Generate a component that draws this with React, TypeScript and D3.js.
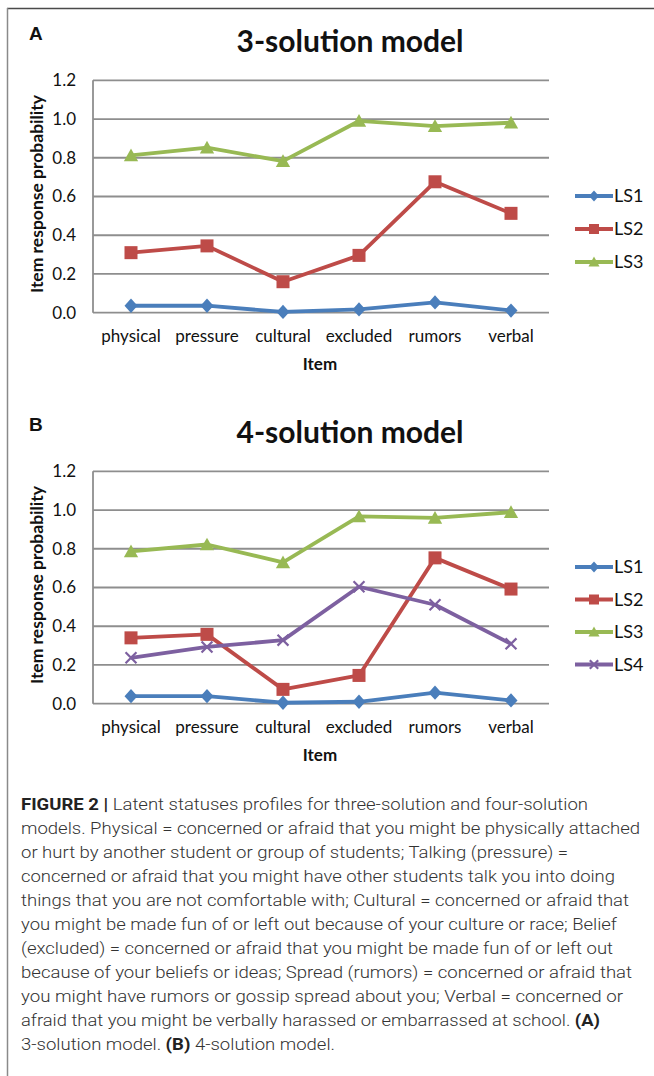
import React from "react";
import * as d3 from "d3";

const items = ["physical", "pressure", "cultural", "excluded", "rumors", "verbal"];
const yTicks = [0, 0.2, 0.4, 0.6, 0.8, 1.0, 1.2];

const seriesNames = ["LS1", "LS2", "LS3", "LS4"];
const seriesColors = ["#4A7EBB", "#BE4B48", "#98B954", "#7D60A0"];
const seriesMarkers = ["diamond", "square", "triangle", "x"];

// Panel A: 3-solution model
const a_LS1 = [0.036, 0.036, 0.004, 0.017, 0.053, 0.011];
const a_LS2 = [0.31, 0.345, 0.16, 0.296, 0.676, 0.513];
const a_LS3 = [0.812, 0.852, 0.783, 0.99, 0.963, 0.981];

// Panel B: 4-solution model
const b_LS1 = [0.039, 0.039, 0.005, 0.01, 0.057, 0.017];
const b_LS2 = [0.34, 0.358, 0.074, 0.146, 0.753, 0.592];
const b_LS3 = [0.787, 0.822, 0.73, 0.967, 0.959, 0.989];
const b_LS4 = [0.237, 0.293, 0.328, 0.604, 0.511, 0.309];

const captionLines = [
  [["FIGURE 2 | ", true], ["Latent statuses profiles for three-solution and four-solution", false]],
  [["models. Physical = concerned or afraid that you might be physically attached", false]],
  [["or hurt by another student or group of students; Talking (pressure) =", false]],
  [["concerned or afraid that you might have other students talk you into doing", false]],
  [["things that you are not comfortable with; Cultural = concerned or afraid that", false]],
  [["you might be made fun of or left out because of your culture or race; Belief", false]],
  [["(excluded) = concerned or afraid that you might be made fun of or left out", false]],
  [["because of your beliefs or ideas; Spread (rumors) = concerned or afraid that", false]],
  [["you might have rumors or gossip spread about you; Verbal = concerned or", false]],
  [["afraid that you might be verbally harassed or embarrassed at school. ", false], ["(A)", true]],
  [["3-solution model. ", false], ["(B)", true], [" 4-solution model.", false]],
] as [string, boolean][][];
const captionWidths = [567, 619, 547, 594, 608, 596, 592, 611, 602, 579, 314];

const chartFont = "Lato, 'Open Sans', sans-serif";

function Marker({ type, x, y, color, s }: { type: string; x: number; y: number; color: string; s: number }) {
  if (type === "diamond") {
    const w = s * 0.5, h = s * 0.55;
    return <path d={`M${x},${y - h}L${x + w},${y}L${x},${y + h}L${x - w},${y}Z`} fill={color} />;
  }
  if (type === "square") {
    const h = s / 2;
    return <rect x={x - h} y={y - h} width={s} height={s} fill={color} />;
  }
  if (type === "triangle") {
    const w = s * 0.55, h = s * 0.45;
    return <path d={`M${x},${y - h - 1}L${x + w},${y + h}L${x - w},${y + h}Z`} fill={color} />;
  }
  const h = s * 0.42;
  return (
    <path
      d={`M${x - h},${y - h}L${x + h},${y + h}M${x - h},${y + h}L${x + h},${y - h}`}
      stroke={color}
      strokeWidth={2.2}
    />
  );
}

function Panel({
  letter, title, top, series,
}: { letter: string; title: string; top: number; series: number[][] }) {
  const x = d3.scalePoint<string>().domain(items).range([93, 549]).padding(0.5);
  const y0 = top + 312.7; // 0.0
  const y = d3.scaleLinear().domain([0, 1.2]).range([y0, y0 - 232.4]);
  const line = d3
    .line<number>()
    .x((_, i) => x(items[i]) as number)
    .y((d) => y(d));
  const legTop = series.length === 3 ? top + 196 : top + 176;
  const legStep = series.length === 3 ? 33 : 32.5;
  return (
    <g>
      <text x={29} y={top + 40} fontFamily="Arial, 'Liberation Sans', sans-serif" fontWeight="bold" fontSize={19} fill="#111">
        {letter}
      </text>
      <text x={350} y={top + 52} textAnchor="middle" fontFamily={chartFont} fontWeight="bold" fontSize={30} fill="#111">
        {title}
      </text>
      {yTicks.map((t) => (
        <g key={t}>
          <line x1={93} x2={549} y1={y(t)} y2={y(t)} stroke="#8e8e8e" strokeWidth={1.8} />
          <text x={76} y={y(t)} dy="0.35em" textAnchor="end" fontFamily={chartFont} fontSize={17} fill="#111">
            {t.toFixed(1)}
          </text>
        </g>
      ))}
      <line x1={93} x2={93} y1={y(1.2)} y2={y(0)} stroke="#8e8e8e" strokeWidth={1.8} />
      {items.map((c) => (
        <text key={c} x={x(c)} y={top + 342} textAnchor="middle" fontFamily={chartFont} fontSize={17} fill="#111">
          {c}
        </text>
      ))}
      <text x={320} y={top + 370} textAnchor="middle" fontFamily={chartFont} fontWeight="bold" fontSize={17} fill="#111">
        Item
      </text>
      <text
        transform={`translate(43,${top + 194}) rotate(-90)`}
        textAnchor="middle"
        fontFamily={chartFont}
        fontWeight="bold"
        fontSize={17.5}
        fill="#111"
      >
        Item response probability
      </text>
      {series.map((vals, si) => (
        <g key={si}>
          <path d={line(vals) || ""} fill="none" stroke={seriesColors[si]} strokeWidth={3.8} strokeLinejoin="round" />
          {vals.map((v, i) => (
            <Marker key={i} type={seriesMarkers[si]} x={x(items[i]) as number} y={y(v)} color={seriesColors[si]} s={13} />
          ))}
        </g>
      ))}
      {series.map((_, si) => {
        const ly = legTop + si * legStep;
        return (
          <g key={"l" + si}>
            <line x1={575} x2={613} y1={ly} y2={ly} stroke={seriesColors[si]} strokeWidth={3.8} />
            <Marker type={seriesMarkers[si]} x={594} y={ly} color={seriesColors[si]} s={10} />
            <text x={614} y={ly} dy="0.35em" fontFamily={chartFont} fontSize={18} fill="#111">
              {seriesNames[si]}
            </text>
          </g>
        );
      })}
    </g>
  );
}

export default function App() {
  return (
    <svg
      width={654}
      height={1076}
      viewBox="0 0 654 1076"
      style={{ position: "absolute", left: 0, top: 0, background: "#fff" }}
    >
      <rect x={0} y={0} width={654} height={1076} fill="#fff" />
      <line x1={7} x2={654} y1={8.5} y2={8.5} stroke="#4a4a4a" strokeWidth={1.6} />
      <line x1={7.5} x2={7.5} y1={8} y2={1076} stroke="#8a8a8a" strokeWidth={1.5} />
      <Panel letter="A" title="3-solution model" top={0} series={[a_LS1, a_LS2, a_LS3]} />
      <Panel letter="B" title="4-solution model" top={391} series={[b_LS1, b_LS2, b_LS3, b_LS4]} />
      {captionLines.map((parts, li) => (
        <text
          key={li}
          x={21}
          y={810 + li * 24}
          fontFamily="Roboto, 'Liberation Sans', sans-serif"
          fontWeight={300}
          fontSize={17}
          fill="#333"
          textLength={captionWidths[li]}
          lengthAdjust="spacingAndGlyphs"
        >
          {parts.map(([s, b], pi) => (
            <tspan key={pi} fontWeight={b ? 700 : 300} fill={b ? "#222" : "#333"}>
              {s}
            </tspan>
          ))}
        </text>
      ))}
    </svg>
  );
}
